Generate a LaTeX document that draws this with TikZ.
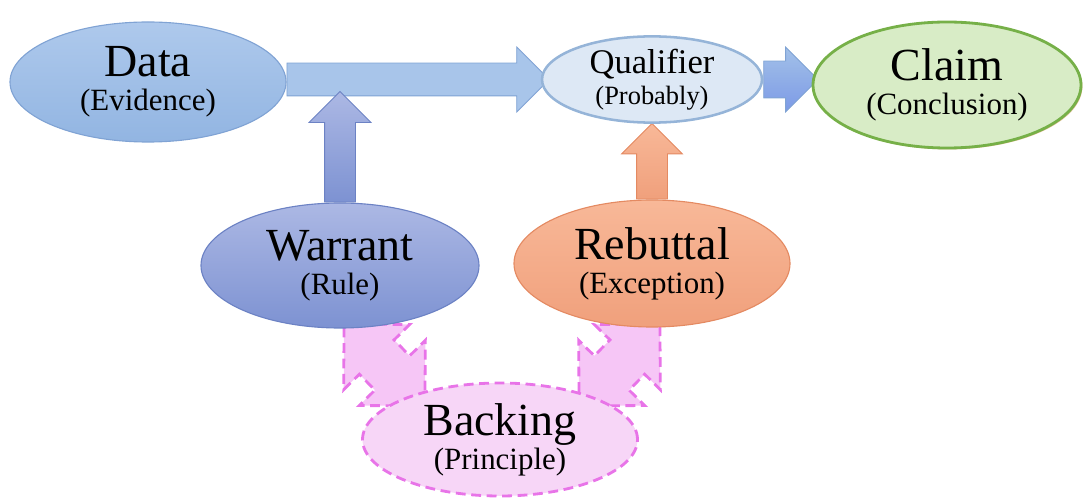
\documentclass[tikz,border=0pt]{standalone}
\usepackage{fontspec}
\setmainfont{Liberation Serif}
\usetikzlibrary{arrows.meta,positioning,shapes.geometric,shapes.arrows,calc,shadows}

\definecolor{dataTop}{RGB}{174,201,236}
\definecolor{dataBot}{RGB}{146,181,226}
\definecolor{dataLine}{RGB}{128,163,212}
\definecolor{qualFill}{RGB}{221,232,245}
\definecolor{qualLine}{RGB}{149,180,216}
\definecolor{claimFill}{RGB}{216,236,198}
\definecolor{claimLine}{RGB}{118,176,72}
\definecolor{warrTop}{RGB}{172,184,228}
\definecolor{warrBot}{RGB}{125,146,210}
\definecolor{warrLine}{RGB}{108,130,196}
\definecolor{rebTop}{RGB}{248,184,152}
\definecolor{rebBot}{RGB}{240,160,124}
\definecolor{rebLine}{RGB}{228,138,98}
\definecolor{backFill}{RGB}{247,214,247}
\definecolor{backLine}{RGB}{232,116,232}
\definecolor{pinkArrow}{RGB}{246,198,246}

\pgfdeclarelayer{bg}
\pgfsetlayers{bg,main}

\newcommand{\bigtxt}{\fontsize{32.7}{36}\selectfont}
\newcommand{\subtxt}{\fontsize{22}{24}\selectfont}

\begin{document}
\begin{tikzpicture}[
  oval/.style={ellipse,inner sep=0pt,align=center,font=\subtxt},
  blockarr/.style={single arrow,single arrow tip angle=90,inner xsep=0pt,text height=0pt,text depth=0pt,
    pos=0,anchor=tail,sloped,allow upside down,line width=0.6pt},
  dasharr/.style={double arrow,double arrow tip angle=90,inner xsep=0pt,inner ysep=0.575cm,text height=0pt,text depth=0pt,sloped,allow upside down,
    double arrow head extend=0.55cm,fill=pinkArrow,draw=backLine,line width=2pt,dash pattern=on 7pt off 4pt}
]
\useasboundingbox (0,0) rectangle (27.075,-12.45);

% ellipses
\node[oval,draw=dataLine,line width=0.8pt,top color=dataTop,bottom color=dataBot,minimum width=6.9cm,minimum height=3.0cm] (data) at (3.7,-2.05) {{\bigtxt Data}\\(Evidence)};
\node[oval,draw=qualLine,line width=1.8pt,fill=qualFill,minimum width=5.5cm,minimum height=2.125cm,font=\fontsize{18.8}{22}\selectfont] (qual) at (16.3,-1.9875) {{\fontsize{24.6}{26}\selectfont Qualifier}\\(Probably)};
\node[oval,draw=claimLine,line width=2pt,fill=claimFill,minimum width=6.7cm,minimum height=3.15cm,
  drop shadow={shadow xshift=1pt,shadow yshift=-1pt,fill=brown!80!orange,opacity=0.5}] (claim) at (23.675,-2.125) {{\bigtxt Claim}\\(Conclusion)};
\node[oval,draw=warrLine,line width=0.8pt,top color=warrTop,bottom color=warrBot,minimum width=6.95cm,minimum height=3.125cm] (warrant) at (8.5,-6.6375) {{\bigtxt Warrant}\\(Rule)};
\node[oval,draw=rebLine,line width=0.8pt,top color=rebTop,bottom color=rebBot,minimum width=6.9cm,minimum height=3.175cm] (reb) at (16.3,-6.5875) {{\bigtxt Rebuttal}\\(Exception)};
\node[oval,draw=backLine,line width=2pt,dash pattern=on 7pt off 4pt,fill=backFill,minimum width=6.875cm,minimum height=2.825cm] (back) at (12.5,-10.9875) {{\bigtxt Backing}\\(Principle)};

% end points
\coordinate (dtail) at (data.east |- qual.west);
\coordinate (ctip) at (claim.west |- qual.east);
\coordinate (wtip) at (8.5,-2.3);
\coordinate (wb1) at (8.6,-8.1);
\coordinate (wb2) at (10.625,-10.15);
\coordinate (rb1) at (16.5,-8.1);
\coordinate (rb2) at (14.475,-10.15);

% block arrows
\begin{pgfonlayer}{bg}
\path let \p1=($(qual.west)-(dtail)$), \n1={veclen(\x1,\y1)} in (dtail) -- (qual.west)
  node[blockarr,draw=dataLine,fill=dataTop!80!dataBot,minimum height=\n1+0.2cm,inner ysep=0.4cm,single arrow head extend=0.4cm] (dq) {};
\path let \p1=($(ctip)-(qual.east)$), \n1={veclen(\x1,\y1)} in (qual.east) -- (ctip)
  node[blockarr,draw=dataLine,top color=dataTop!60!dataBot,bottom color=dataBot!85!blue,minimum height=\n1+0.15cm,inner ysep=0.45cm,single arrow head extend=0.35cm] (qc) {};
\path let \p1=($(wtip)-(warrant.north)$), \n1={veclen(\x1,\y1)} in (warrant.north) -- (wtip)
  node[blockarr,draw=warrLine,top color=warrTop,bottom color=warrBot,minimum height=\n1,inner ysep=0.375cm,single arrow head extend=0.3875cm] (wa) {};
\path let \p1=($(qual.south)-(reb.north)$), \n1={veclen(\x1,\y1)} in (reb.north) -- (qual.south)
  node[blockarr,draw=rebLine,top color=rebTop,bottom color=rebBot,minimum height=\n1,inner ysep=0.375cm,single arrow head extend=0.375cm] (ra) {};
\path let \p1=($(wb2)-(wb1)$), \n1={veclen(\x1,\y1)} in (wb1) -- (wb2)
  node[midway,dasharr,minimum height=\n1] (wb) {};
\path let \p1=($(rb2)-(rb1)$), \n1={veclen(\x1,\y1)} in (rb1) -- (rb2)
  node[midway,dasharr,minimum height=\n1] (rb) {};
\end{pgfonlayer}
\end{tikzpicture}
\end{document}
